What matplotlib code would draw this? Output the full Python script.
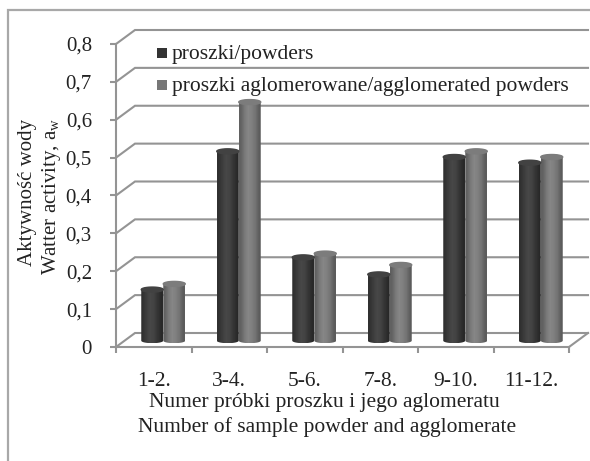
import numpy as np
import matplotlib
matplotlib.use('Agg')
import matplotlib.pyplot as plt
from matplotlib.path import Path
from matplotlib.patches import PathPatch, Rectangle

plt.rcParams['font.family'] = ['Liberation Serif', 'DejaVu Serif']
plt.rcParams['mathtext.fontset'] = 'custom'
plt.rcParams['mathtext.rm'] = 'Liberation Serif'

categories = ['1-2.', '3-4.', '5-6.', '7-8.', '9-10.', '11-12.']
powders = [0.135, 0.50, 0.22, 0.175, 0.485, 0.47]
agglomerated = [0.15, 0.63, 0.23, 0.20, 0.50, 0.485]
y_ticks = [0, 0.1, 0.2, 0.3, 0.4, 0.5, 0.6, 0.7, 0.8]
y_labels = ['0', '0,1', '0,2', '0,3', '0,4', '0,5', '0,6', '0,7', '0,8']
legend_names = ['proszki/powders', 'proszki aglomerowane/agglomerated powders']

W, H = 590, 461
GRID = '#949494'
TEXT = '#222222'

fig = plt.figure(figsize=(W / 100, H / 100), dpi=100)
ax = fig.add_axes([116 / W, 1 - 347 / H, 453 / W, 303 / H])
ax.set_xlim(0, 6)
ax.set_ylim(0, 0.8)
ax.patch.set_alpha(0)

# depth of the fake 3d box, in data units
dx = 19 / 75.5
dy = 14 / 303 * 0.8
bar_w = 22 / 75.5
ell = 2.5 / 303 * 0.8


def cylinder(x0, value, cmap_vals):
    # bar body with elliptic bottom and top
    y0 = dy * 0.45
    y1 = y0 + value
    t = np.linspace(0, np.pi, 30)
    xs = x0 + bar_w / 2 + bar_w / 2 * np.cos(t)
    top = np.column_stack([xs, y1 + ell * np.sin(t)])
    bot = np.column_stack([xs[::-1], y0 - ell * np.sin(t[::-1])])
    verts = np.vstack([top, bot, top[:1]])
    patch = PathPatch(Path(verts), fc='none', ec='none', zorder=3)
    ax.add_patch(patch)
    img = ax.imshow(np.array(cmap_vals)[None, :], cmap='gray', vmin=0, vmax=1,
                    extent=[x0, x0 + bar_w, y0 - ell, y1 + ell], aspect='auto',
                    interpolation='bilinear', zorder=3)
    img.set_clip_path(patch)
    # slightly darker cap
    s = np.linspace(0, 2 * np.pi, 40)
    ax.fill(x0 + bar_w / 2 + bar_w / 2 * np.cos(s), y1 + ell * np.sin(s),
            color=(cmap_vals[2] * 0.92,) * 3, zorder=4, clip_on=False)


dark = [0.19, 0.24, 0.28, 0.26, 0.21, 0.16]
light = [0.38, 0.47, 0.53, 0.50, 0.45, 0.36]

for i in range(len(categories)):
    center = i + 0.5 + dx / 2
    cylinder(center - bar_w, powders[i], dark)
    cylinder(center, agglomerated[i], light)

# walls: gridlines run along the back, joined to the axis by a slanted piece
for v in y_ticks:
    ax.plot([0, dx, 6 + dx], [v, v + dy, v + dy], color=GRID, lw=1.5,
            clip_on=False, zorder=1, solid_joinstyle='miter')
ax.plot([6, 6 + dx], [0, dy], color=GRID, lw=1.5, clip_on=False, zorder=1)

for s in ['top', 'right']:
    ax.spines[s].set_visible(False)
for s in ['left', 'bottom']:
    ax.spines[s].set_color(GRID)
    ax.spines[s].set_linewidth(1.5)
    ax.spines[s].set_zorder(2)

ax.set_yticks(y_ticks)
ax.set_yticklabels(y_labels, fontsize=15, color=TEXT)
ax.set_xticks(range(7))
ax.set_xticklabels([])
ax.set_xticks(np.arange(6) + 0.5, minor=True)
ax.set_xticklabels(categories, minor=True, fontsize=15.5, color=TEXT)
ax.tick_params(axis='y', length=4.3, width=1.5, color=GRID, pad=13)
ax.tick_params(axis='x', which='major', length=4.3, width=1.5, color=GRID)
ax.tick_params(axis='x', which='minor', length=0, pad=18)

# frame of the chart area, cut off by the image edge
fig.add_artist(Rectangle((8 / W, -0.1), 1, 1.1 - 10 / H, transform=fig.transFigure,
                         fc='none', ec='#a8a8a8', lw=1.6, zorder=0))

# legend inside the back wall
for name, color, py in zip(legend_names, ['#333333', '#777777'], [53, 85]):
    fig.add_artist(Rectangle((157 / W, 1 - (py + 5) / H), 10 / W, 10 / H,
                             transform=fig.transFigure, fc=color, ec='none'))
    fig.text(172 / W, 1 - (py + 1) / H, name, fontsize=15.5, color=TEXT, va='center', ha='left')

fig.text(28 / W, 1 - 192 / H, 'Aktywność wody', rotation=90, fontsize=15, color=TEXT,
         ha='center', va='center')
fig.text(52 / W, 1 - 196 / H, r'Watter activity, a$_{\mathrm{w}}$', rotation=90, fontsize=15,
         color=TEXT, ha='center', va='center')
fig.text(324 / W, 1 - 402 / H, 'Numer próbki proszku i jego aglomeratu', fontsize=15.5,
         color=TEXT, ha='center', va='center')
fig.text(327 / W, 1 - 427 / H, 'Number of sample powder and agglomerate', fontsize=15.5,
         color=TEXT, ha='center', va='center')

fig.savefig('out.png', dpi=100)
